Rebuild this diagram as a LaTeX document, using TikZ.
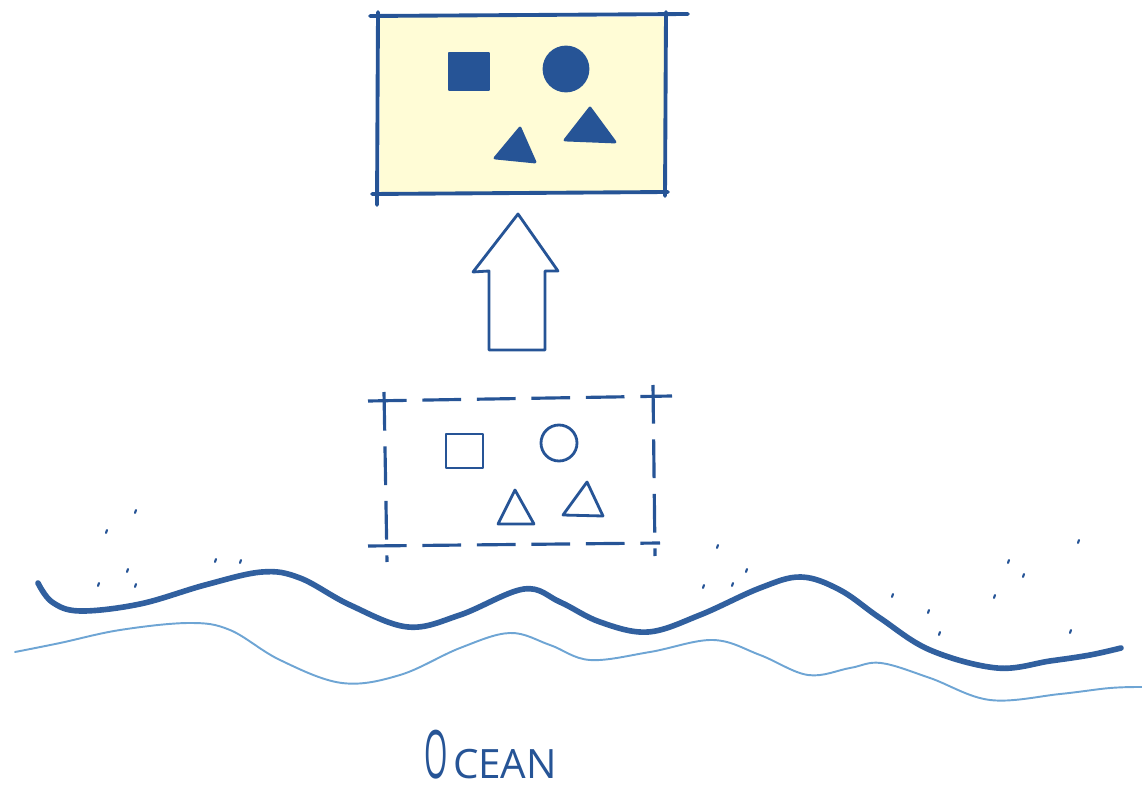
\documentclass[tikz,border=0pt]{standalone}
\usepackage{fontspec}
\newfontfamily\oceanfont{Open Sans}
\usepackage{tikz}
\usetikzlibrary{calc}
\definecolor{InkBlue}{RGB}{38,84,150}
\definecolor{ShapeBlue}{RGB}{72,112,172}
\definecolor{SeaBlue}{RGB}{110,165,212}
\definecolor{PaleYellow}{RGB}{255,252,214}
\tikzset{
  ink/.style={InkBlue,line width=2.2pt,line cap=round,line join=round},
  thin ink/.style={InkBlue,line width=1.6pt,line cap=round,line join=round},
  dashedge/.style={InkBlue,line width=1.8pt,dash pattern=on 22pt off 9pt},
  speck/.style={InkBlue,line width=1.2pt,line cap=round}
}
\begin{document}
\begin{tikzpicture}[x=0.02cm,y=-0.02cm]
            \useasboundingbox (0,0) rectangle (1142,793);
            % top frame (the record)
            \fill[PaleYellow] (380,17) rectangle (667,193);
            \draw[ink] (370,16)--(688,14);
            \draw[ink] (378,12)--(377,205);
            \draw[ink] (666,12)--(665,196);
            \draw[ink] (372,194)--(668,192);
            \fill[ShapeBlue,draw=InkBlue,thin ink] (449,53) rectangle (489,90);
            \fill[ShapeBlue,draw=InkBlue,thin ink] (566,69) circle (22);
            \fill[ShapeBlue,draw=InkBlue,thin ink] (495,158)--(520,128)--(535,162)--cycle;
            \fill[ShapeBlue,draw=InkBlue,thin ink] (565,140)--(590,108)--(615,142)--cycle;
            % hollow arrow
            \draw[thin ink,fill=white] (518,214)--(558,271)--(545,271)--(545,350)--(489,350)--(489,271)--(473,272)--cycle;
            % dashed frame (the source)
            \draw[dashedge] (368,401)--(672,396);
            \draw[dashedge] (384,392)--(387,562);
            \draw[dashedge] (653,385)--(655,556);
            \draw[dashedge] (368,546)--(660,543);
            \draw[thin ink] (446,434) rectangle (483,468);
            \draw[thin ink] (559,443) circle (18);
            \draw[thin ink] (498,524)--(515,490)--(534,524)--cycle;
            \draw[thin ink] (563,515)--(587,482)--(603,516)--cycle;
            % waves
            \draw[SeaBlue,line width=1.1pt,line cap=round] plot[smooth,tension=0.6] coordinates {
              (15,652) (60,643) (120,630) (189,623) (230,630) (280,660) (342,683) (400,675) (460,648) (510,633) (550,645) (590,660) (650,652) (713,640) (760,655) (808,675) (850,668) (881,663) (930,678) (990,700) (1060,694) (1110,688) (1142,687)};
            \draw[InkBlue!85!SeaBlue,line width=3.2pt,line cap=round] plot[smooth,tension=0.6] coordinates {
              (38,583) (52,602) (80,611) (140,604) (205,585) (262,572) (300,578) (350,605) (408,627) (460,615) (524,589) (560,602) (600,622) (648,632) (700,615) (760,588) (801,577) (840,590) (880,618) (930,650) (997,668) (1050,661) (1090,655) (1121,648)};
            % specks
            \foreach \px/\py in {135/513,106/533,215/562,240/563,127/572,98/586,135/587,717/548,746/572,703/588,732/586,892/597,928/613,939/635,1008/563,1023/577,994/598,1078/543,1070/633}
              \draw[speck] (\px,\py)--++(1,-3);
            \node[InkBlue,anchor=base west,inner sep=0pt] (ocean) at (424,778) {\oceanfont\fontsize{38}{38}\selectfont\scalebox{0.45}[1]{O}\hspace{3pt}\fontsize{23}{23}\selectfont CEAN};
        \end{tikzpicture}
\end{document}
